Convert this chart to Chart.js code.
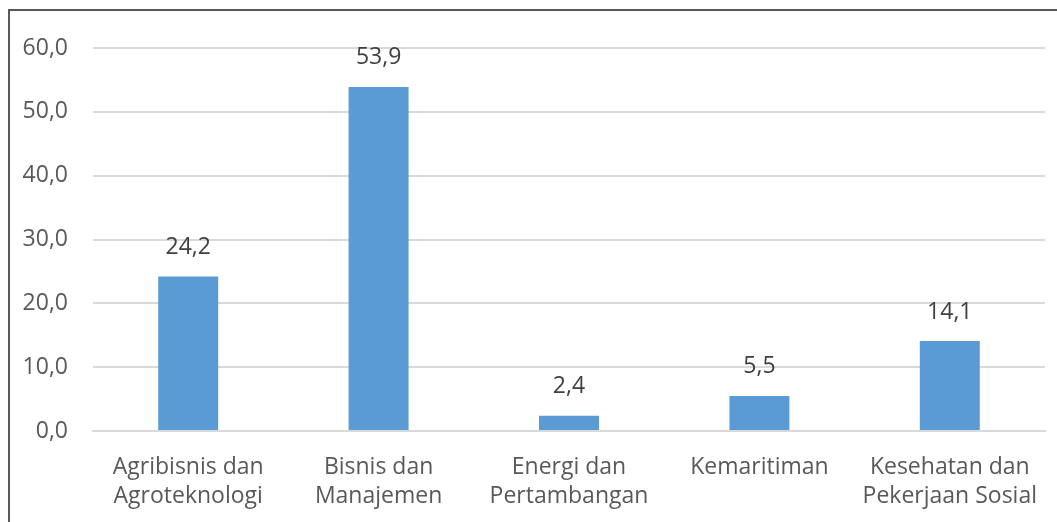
<!DOCTYPE html>
<html>
<head>
<meta charset="utf-8">
<script src="https://cdn.jsdelivr.net/npm/chart.js@4"></script>
<style>
html,body{margin:0;padding:0;background:#fff;}
#wrap{position:relative;width:1057px;height:522px;}
#frame{position:absolute;left:8px;top:9px;right:-5px;bottom:-5px;border-left:2px solid #595959;border-top:2px solid #595959;pointer-events:none;}
canvas{position:absolute;left:0;top:0;}
</style>
</head>
<body>
<div id="wrap"><canvas id="c" width="1057" height="522"></canvas><div id="frame"></div></div>
<script>
const categories = [["Agribisnis dan","Agroteknologi"],["Bisnis dan","Manajemen"],["Energi dan","Pertambangan"],["Kemaritiman"],["Kesehatan dan","Pekerjaan Sosial"]];
const values = [24.2, 53.9, 2.4, 5.5, 14.1];
const yTicks = [0,10,20,30,40,50,60];

const FONT = "'Open Sans', sans-serif";
const fmt = v => v.toFixed(1).replace('.', ',');

const labelPlugin = {
  id: 'valLabels',
  afterDatasetsDraw(chart) {
    const ctx = chart.ctx;
    const meta = chart.getDatasetMeta(0);
    ctx.save();
    ctx.font = "23px " + FONT;
    ctx.fillStyle = '#404040';
    ctx.textAlign = 'center';
    ctx.textBaseline = 'middle';
    meta.data.forEach((bar, i) => {
      ctx.fillText(fmt(values[i]), bar.x, bar.y - 29);
    });
    ctx.restore();
  }
};

new Chart(document.getElementById('c'), {
  type: 'bar',
  data: {
    labels: categories,
    datasets: [{data: values, backgroundColor: '#5b9bd5', borderWidth: 0, barPercentage: 0.315, categoryPercentage: 1}]
  },
  options: {
    responsive: false,
    animation: false,
    devicePixelRatio: 1,
    layout: {padding: {left: 0, right: 12, top: 48, bottom: 0}},
    plugins: {legend: {display: false}, tooltip: {enabled: false}},
    scales: {
      x: {
        grid: {display: false, drawTicks: false},
        border: {display: true, color: '#d9d9d9', width: 2},
        ticks: {color: '#595959', font: {family: FONT, size: 23, lineHeight: 1.27}, padding: 22, maxRotation: 0, autoSkip: false},
        afterFit(s) { s.height = 91; s.paddingLeft = 0; s.paddingRight = 0; }
      },
      y: {
        min: 0, max: 60,
        afterBuildTicks(s) { s.ticks = yTicks.map(v => ({value: v})); },
        grid: {color: '#d9d9d9', lineWidth: 2, drawTicks: false},
        border: {display: false},
        ticks: {color: '#595959', font: {family: FONT, size: 23}, padding: 25, callback: v => fmt(v)},
        afterFit(s) { s.width = 93; s.paddingTop = 0; s.paddingBottom = 0; }
      }
    }
  },
  plugins: [labelPlugin]
});
</script>
</body>
</html>
